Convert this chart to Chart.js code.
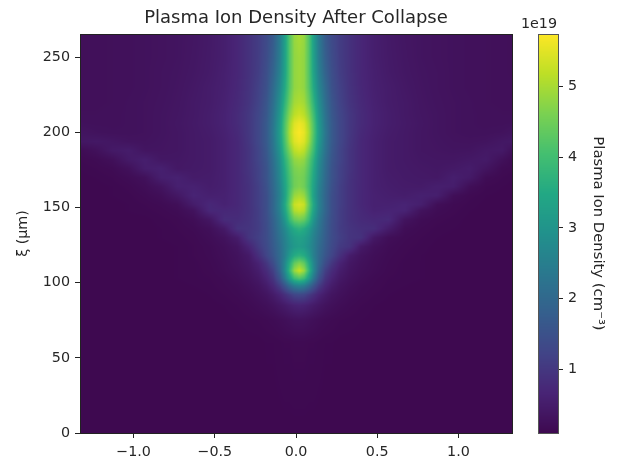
<!DOCTYPE html>
<html>
<head>
<meta charset="utf-8">
<script src="https://cdn.jsdelivr.net/npm/chart.js@4"></script>
<style>
body { margin: 0; background: #fff; }
</style>
</head>
<body>
<canvas id="chart1" width="619" height="462"></canvas>
<script>
// grid positions, finer around the beam
var xPositions = [-1.33,-1.23,-1.13,-1.03,-.93,-.83,-.73,-.63,-.53,-.44,-.36,-.29,-.23,-.18,-.14,-.10,-.07,-.04,-.01,.02,.05,.08,.11,.14,.18,.22,.27,.33,.40,.48,.57,.67,.77,.87,.97,1.07,1.17,1.27,1.33];
var xiPositions = [0,60,75,85,92,98,103,108,113,118,124,130,136,142,148,152,158,164,170,176,182,188,194,200,206,212,220,230,240,250,265.6];

// density in 1e19 cm^-3, one row per xi position, bottom row first
var density = [
[.1,.1,.1,.1,.1,.1,.1,.1,.1,.1,.1,.1,.1,.1,.1,.1,.1,.1,.1,.1, .1,.1,.1,.1,.1,.1,.1,.1,.1,.1,.1,.1,.1,.1,.1,.1,.1,.1,.1],
[.1,.1,.1,.1,.1,.1,.1,.1,.1,.1,.1,.1,.1,.11,.11,.12,.13,.13,.14,.14, .14,.13,.13,.12,.11,.11,.1,.1,.1,.1,.1,.1,.1,.1,.1,.1,.1,.1,.1],
[.1,.1,.1,.1,.1,.1,.1,.1,.1,.1,.11,.12,.13,.15,.17,.2,.23,.26,.29,.3, .29,.26,.23,.2,.17,.15,.13,.12,.11,.1,.1,.1,.1,.1,.1,.1,.1,.1,.1],
[.1,.1,.1,.1,.1,.1,.1,.1,.1,.11,.13,.16,.2,.25,.31,.4,.47,.55,.62,.65, .62,.55,.47,.4,.31,.25,.2,.16,.13,.11,.1,.1,.1,.1,.1,.1,.1,.1,.1],
[.1,.1,.1,.1,.1,.1,.1,.1,.11,.13,.16,.2,.27,.35,.48,.65,.85,1.05,1.25,1.3, 1.25,1.05,.85,.65,.48,.35,.27,.2,.16,.13,.11,.1,.1,.1,.1,.1,.1,.1,.1],
[.1,.1,.1,.1,.1,.1,.1,.11,.12,.15,.18,.25,.34,.5,.72,1.1,1.55,2.05,2.45,2.6, 2.45,2.05,1.55,1.1,.72,.5,.34,.25,.18,.15,.12,.11,.1,.1,.1,.1,.1,.1,.1],
[.1,.1,.1,.1,.1,.1,.11,.12,.13,.16,.22,.3,.43,.65,.95,1.55,2.3,3.2,3.95,4.2, 3.95,3.2,2.3,1.55,.95,.65,.43,.3,.22,.16,.13,.12,.11,.1,.1,.1,.1,.1,.1],
[.1,.1,.1,.1,.1,.1,.11,.12,.14,.19,.25,.35,.52,.8,1.15,1.85,2.7,3.8,4.85,5.25, 4.85,3.8,2.7,1.85,1.15,.8,.52,.35,.25,.19,.14,.12,.11,.1,.1,.1,.1,.1,.1],
[.1,.1,.1,.1,.1,.1,.11,.12,.15,.2,.28,.4,.62,.98,1.4,2.0,2.65,3.55,4.35,4.65, 4.35,3.55,2.65,2.0,1.42,1.0,.64,.4,.28,.2,.15,.12,.11,.1,.1,.1,.1,.1,.1],
[.1,.1,.1,.1,.1,.1,.11,.13,.16,.22,.3,.45,.85,1.25,1.6,2.05,2.5,3.1,3.55,3.7, 3.55,3.1,2.5,2.05,1.6,1.25,.88,.5,.32,.22,.16,.13,.11,.1,.1,.1,.1,.1,.1],
[.1,.1,.1,.1,.1,.1,.11,.13,.17,.24,.35,.65,1.05,1.35,1.7,2.1,2.5,2.85,3.1,3.2, 3.1,2.85,2.5,2.1,1.7,1.35,1.05,.92,.45,.27,.18,.14,.12,.1,.1,.1,.1,.1,.1],
[.1,.1,.1,.1,.1,.11,.12,.14,.2,.3,.5,.95,1.15,1.4,1.75,2.2,2.55,2.95,3.2,3.3, 3.2,2.95,2.55,2.2,1.75,1.4,1.15,.95,.9,.42,.22,.16,.13,.11,.1,.1,.1,.1,.1],
[.1,.1,.1,.1,.1,.11,.13,.16,.24,.45,.9,.95,1.1,1.4,1.8,2.3,2.7,3.2,3.55,3.7, 3.55,3.2,2.7,2.3,1.8,1.4,1.1,.95,.85,.82,.5,.2,.15,.12,.11,.1,.1,.1,.1],
[.1,.1,.1,.1,.1,.12,.14,.2,.38,.8,.8,.92,1.12,1.42,1.85,2.4,3.0,3.85,4.4,4.55, 4.4,3.85,3.0,2.4,1.85,1.42,1.12,.9,.78,.72,.75,.32,.18,.14,.12,.1,.1,.1,.1],
[.1,.1,.1,.11,.12,.14,.18,.3,.72,.72,.75,.9,1.12,1.45,1.95,2.55,3.3,4.2,5.05,5.2, 5.05,4.2,3.3,2.55,1.95,1.45,1.12,.9,.75,.62,.65,.65,.3,.18,.14,.11,.1,.1,.1],
[.1,.1,.1,.11,.13,.16,.22,.5,.72,.62,.72,.9,1.15,1.45,1.95,2.6,3.4,4.35,5.25,5.4, 5.25,4.35,3.4,2.6,1.95,1.45,1.15,.9,.72,.6,.6,.65,.55,.22,.15,.12,.1,.1,.1],
[.1,.1,.11,.12,.16,.22,.4,.65,.58,.6,.72,.9,1.15,1.45,1.95,2.55,3.25,4.15,4.85,5.0, 4.85,4.15,3.25,2.55,1.95,1.45,1.15,.9,.72,.6,.55,.52,.58,.55,.22,.14,.11,.1,.1],
[.1,.1,.11,.14,.2,.32,.58,.6,.52,.58,.72,.9,1.15,1.5,2.0,2.6,3.3,4.0,4.5,4.65, 4.5,4.0,3.3,2.6,2.0,1.5,1.15,.9,.72,.58,.52,.48,.47,.55,.52,.22,.13,.11,.1],
[.1,.11,.13,.18,.26,.55,.6,.48,.5,.58,.72,.92,1.2,1.55,2.05,2.7,3.4,4.05,4.5,4.6, 4.5,4.05,3.4,2.7,2.05,1.55,1.2,.92,.72,.58,.5,.46,.44,.42,.55,.45,.18,.13,.11],
[.11,.13,.16,.26,.52,.58,.42,.45,.48,.58,.72,.95,1.2,1.55,2.1,2.75,3.5,4.15,4.6,4.7, 4.6,4.15,3.5,2.75,2.1,1.55,1.2,.95,.72,.58,.48,.45,.42,.4,.44,.5,.34,.16,.14],
[.13,.16,.24,.45,.55,.4,.4,.44,.48,.58,.72,.95,1.25,1.6,2.15,2.85,3.65,4.3,4.8,4.9, 4.8,4.3,3.65,2.85,2.15,1.6,1.25,.95,.72,.58,.48,.44,.4,.38,.38,.42,.46,.26,.16],
[.17,.26,.44,.5,.36,.36,.38,.44,.48,.58,.72,.95,1.25,1.65,2.25,3.0,3.9,4.6,5.15,5.3, 5.15,4.6,3.9,3.0,2.25,1.65,1.25,.95,.72,.58,.48,.44,.38,.36,.34,.35,.42,.44,.26],
[.38,.42,.38,.33,.32,.35,.38,.44,.48,.58,.72,.98,1.3,1.7,2.3,3.15,4.05,4.9,5.45,5.6, 5.45,4.9,4.05,3.15,2.3,1.7,1.3,.98,.72,.58,.48,.44,.38,.35,.32,.31,.33,.4,.42],
[.34,.3,.28,.28,.3,.34,.38,.44,.5,.6,.75,1.0,1.3,1.7,2.35,3.2,4.15,5.0,5.55,5.72, 5.55,5.0,4.15,3.2,2.35,1.7,1.3,1.0,.75,.6,.5,.44,.38,.34,.3,.28,.28,.3,.34],
[.28,.27,.27,.28,.3,.34,.39,.45,.52,.62,.78,1.0,1.3,1.7,2.3,3.15,4.1,4.9,5.45,5.6, 5.45,4.9,4.1,3.15,2.3,1.7,1.3,1.0,.78,.62,.52,.45,.39,.34,.3,.28,.27,.27,.28],
[.26,.26,.27,.28,.3,.34,.38,.44,.52,.62,.78,1.0,1.28,1.65,2.25,3.05,3.95,4.7,5.15,5.3, 5.15,4.7,3.95,3.05,2.25,1.65,1.28,1.0,.78,.62,.52,.44,.38,.34,.3,.28,.27,.26,.26],
[.25,.25,.26,.28,.3,.33,.37,.44,.5,.6,.75,.95,1.22,1.6,2.15,2.9,3.7,4.45,4.95,5.05, 4.95,4.45,3.7,2.9,2.15,1.6,1.22,.95,.75,.6,.5,.44,.37,.33,.3,.28,.26,.25,.25],
[.25,.25,.26,.27,.29,.32,.36,.42,.5,.58,.72,.92,1.18,1.5,2.05,2.7,3.45,4.25,4.8,4.9, 4.8,4.25,3.45,2.7,2.05,1.5,1.18,.92,.72,.58,.5,.42,.36,.32,.29,.27,.26,.25,.25],
[.24,.25,.26,.27,.29,.32,.35,.4,.47,.57,.7,.9,1.12,1.45,1.9,2.55,3.3,4.2,4.8,4.9, 4.8,4.2,3.3,2.55,1.9,1.45,1.12,.9,.7,.57,.47,.4,.35,.32,.29,.27,.26,.25,.24],
[.24,.25,.26,.27,.29,.31,.34,.39,.46,.55,.7,.9,1.1,1.4,1.8,2.45,3.25,4.2,4.8,4.9, 4.8,4.2,3.25,2.45,1.8,1.4,1.1,.9,.7,.55,.46,.39,.34,.31,.29,.27,.26,.25,.24],
[.24,.25,.26,.27,.29,.31,.34,.38,.45,.55,.7,.9,1.1,1.35,1.7,2.4,3.2,4.2,4.85,5.0, 4.85,4.2,3.2,2.4,1.7,1.35,1.1,.9,.7,.55,.45,.38,.34,.31,.29,.27,.26,.25,.24]
];

var xTicks = [-1, -0.5, 0, 0.5, 1];
var yTicks = [0, 50, 100, 150, 200, 250];
var cbarTicks = [1, 2, 3, 4, 5];
var vMin = 0.1;
var vMax = 5.74;

var viridisStops = [[62,9,80],[72,36,117],[65,68,135],[53,95,141],[42,120,142],[33,145,140],[34,168,132],[68,191,112],[122,209,81],[189,223,38],[253,231,37]];

var fontName = '"DejaVu Sans"';
var textColor = '#262626';

function viridis(v) {
  var t = (v - vMin) / (vMax - vMin);
  t = Math.max(0, Math.min(1, t)) * (viridisStops.length - 1);
  var i = Math.min(Math.floor(t), viridisStops.length - 2);
  var f = t - i;
  var a = viridisStops[i], b = viridisStops[i + 1];
  return [a[0] + (b[0] - a[0]) * f, a[1] + (b[1] - a[1]) * f, a[2] + (b[2] - a[2]) * f];
}

// cell index left of a value in a sorted list
function findCell(list, v) {
  var i = 0;
  while (i < list.length - 2 && list[i + 1] < v) i++;
  return i;
}

// shades the grid between its points (like pcolormesh gouraud), using the chart scales
var heatmapPlugin = {
  id: 'heatmap',
  afterLayout: function(chart) {
    // colorbar axis sits to the right of the plot, not against it
    chart.scales.cbar.left = 558;
  },
  beforeDatasetsDraw: function(chart) {
    var ctx = chart.ctx, area = chart.chartArea;
    var xs = chart.scales.x, ys = chart.scales.y, cb = chart.scales.cbar;
    var w = Math.round(area.right - area.left), h = Math.round(area.bottom - area.top);
    var off = document.createElement('canvas');
    off.width = w; off.height = h;
    var octx = off.getContext('2d');
    var img = octx.createImageData(w, h);
    for (var py = 0; py < h; py++) {
      var yv = ys.getValueForPixel(area.top + py + 0.5);
      var r = findCell(xiPositions, yv);
      var fy = (yv - xiPositions[r]) / (xiPositions[r + 1] - xiPositions[r]);
      for (var px = 0; px < w; px++) {
        var xv = xs.getValueForPixel(area.left + px + 0.5);
        var c = findCell(xPositions, xv);
        var fx = (xv - xPositions[c]) / (xPositions[c + 1] - xPositions[c]);
        var v = (density[r][c] * (1 - fx) + density[r][c + 1] * fx) * (1 - fy) +
                (density[r + 1][c] * (1 - fx) + density[r + 1][c + 1] * fx) * fy;
        var col = viridis(v);
        var k = (py * w + px) * 4;
        img.data[k] = col[0]; img.data[k + 1] = col[1]; img.data[k + 2] = col[2]; img.data[k + 3] = 255;
      }
    }
    octx.putImageData(img, 0, 0);
    ctx.drawImage(off, area.left, area.top);

    // colorbar
    for (var y = Math.round(cb.top); y < Math.round(cb.bottom); y++) {
      var cc = viridis(cb.getValueForPixel(y + 0.5));
      ctx.fillStyle = 'rgb(' + Math.round(cc[0]) + ',' + Math.round(cc[1]) + ',' + Math.round(cc[2]) + ')';
      ctx.fillRect(538, y, 20, 1);
    }
  },
  afterDraw: function(chart) {
    var ctx = chart.ctx, area = chart.chartArea;
    ctx.save();
    ctx.strokeStyle = '#222';
    ctx.lineWidth = 1;
    ctx.strokeRect(area.left + 0.5, area.top + 0.5, area.right - area.left, area.bottom - area.top);
    ctx.strokeStyle = '#555';
    ctx.strokeRect(538.5, area.top + 0.5, 20, area.bottom - area.top);
    // offset text of the colorbar
    ctx.fillStyle = textColor;
    ctx.font = '14.3px ' + fontName;
    ctx.textAlign = 'right';
    ctx.textBaseline = 'alphabetic';
    ctx.fillText('1e19', 557, 28);
    ctx.restore();
  }
};

// one point per grid node, the marks are painted by the plugin above
var cells = [];
xiPositions.forEach(function(yv, r) {
  xPositions.forEach(function(xv, c) {
    cells.push({ x: xv, y: yv, v: density[r][c] });
  });
});

function setTicks(list) {
  return function(scale) {
    scale.ticks = list.map(function(v) { return { value: v }; });
  };
}

var tickFont = { family: fontName, size: 14.3 };

var configg = {
  type: 'scatter',
  data: {
    datasets: [{
      label: 'Plasma Ion Density',
      data: cells,
      pointRadius: 0,
      pointHoverRadius: 0
    }]
  },
  options: {
    responsive: false,
    animation: false,
    layout: { padding: 0 },
    plugins: {
      legend: { display: false },
      tooltip: { enabled: false },
      title: {
        display: true,
        text: 'Plasma Ion Density After Collapse',
        color: textColor,
        font: { family: fontName, size: 18, weight: 'normal', lineHeight: 1 },
        fullSize: false,
        padding: { top: 9, bottom: 7 }
      }
    },
    scales: {
      x: {
        type: 'linear',
        min: -1.33,
        max: 1.33,
        afterBuildTicks: setTicks(xTicks),
        afterFit: function(scale) { scale.height = 29; },
        border: { display: false },
        grid: { drawOnChartArea: false, color: '#222', tickLength: 5 },
        ticks: {
          color: textColor,
          font: tickFont,
          padding: 6,
          maxRotation: 0,
          callback: function(v) { return v.toFixed(1).replace('-', '\u2212'); }
        }
      },
      y: {
        type: 'linear',
        position: 'left',
        min: 0,
        max: 265.6,
        afterBuildTicks: setTicks(yTicks),
        afterFit: function(scale) { scale.width = 80; },
        border: { display: false },
        grid: { drawOnChartArea: false, color: '#222', tickLength: 5 },
        ticks: { color: textColor, font: tickFont, padding: 5 },
        title: {
          display: true,
          text: '\u03be (\u00b5m)',
          color: textColor,
          font: { family: fontName, size: 14.3 },
          padding: { top: 15, bottom: 0 }
        }
      },
      cbar: {
        type: 'linear',
        position: 'right',
        min: vMin,
        max: vMax,
        afterBuildTicks: setTicks(cbarTicks),
        afterFit: function(scale) { scale.width = 107; },
        border: { display: false },
        grid: { drawOnChartArea: false, color: '#222', tickLength: 5 },
        ticks: {
          color: textColor,
          font: tickFont,
          padding: 5,
          callback: function(v) { return String(v); }
        },
        title: {
          display: true,
          text: 'Plasma Ion Density (cm\u207b\u00b3)',
          color: textColor,
          font: { family: fontName, size: 14.8 },
          padding: { top: 12, bottom: 0 }
        }
      }
    }
  },
  plugins: [heatmapPlugin]
};

var ctx1 = document.getElementById('chart1');
document.myChart = new Chart(ctx1, configg);
</script>
</body>
</html>
